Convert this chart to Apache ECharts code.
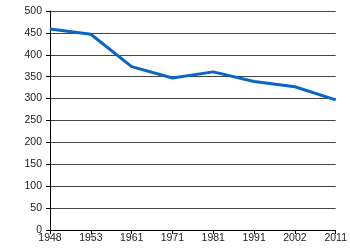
<!DOCTYPE html>
<html><head><meta charset="utf-8">
<script src="https://cdn.jsdelivr.net/npm/echarts@6/dist/echarts.min.js"></script>
<style>html,body{margin:0;padding:0;background:#fff}#c{width:350px;height:250px}</style>
</head><body><div id="c"></div>
<script>
const years = ['1948','1953','1961','1971','1981','1991','2002','2011'];
const values = [459, 447, 373, 347, 361, 339, 327, 297];
const yTicks = [0, 50, 100, 150, 200, 250, 300, 350, 400, 450, 500];

const chart = echarts.init(document.getElementById('c'), null, {renderer:'canvas'});
chart.setOption({
  animation: false,
  backgroundColor: '#fff',
  grid: {left: 50, right: 14, top: 11, bottom: 20, containLabel: false},
  xAxis: {
    type: 'category', data: years, boundaryGap: false,
    axisLine: {lineStyle: {color: '#000', width: 1}},
    axisTick: {show: true, length: 4, lineStyle: {color: '#000'}},
    axisLabel: {color: '#222', fontFamily: 'Liberation Sans', fontSize: 10.5, margin: 3},
    splitLine: {show: false}
  },
  yAxis: {
    type: 'value', min: yTicks[0], max: yTicks[yTicks.length-1], interval: 50,
    axisLine: {show: true, lineStyle: {color: '#000', width: 1}},
    axisTick: {show: true, length: 4, lineStyle: {color: '#000'}},
    axisLabel: {color: '#222', fontFamily: 'Liberation Sans', fontSize: 10.5, margin: 8},
    splitLine: {show: true, lineStyle: {color: '#444', width: 1}}
  },
  series: [{
    type: 'line', data: values, symbol: 'none',
    lineStyle: {color: '#0a66c2', width: 3},
    z: 5
  }]
});
</script></body></html>
